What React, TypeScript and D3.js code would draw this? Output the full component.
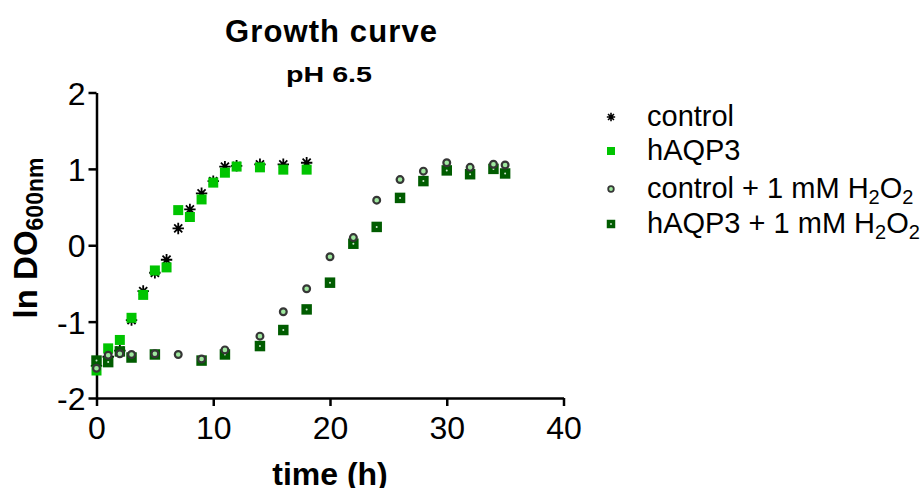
import React, { useRef, useEffect } from 'react'
import * as d3 from 'd3'

// time (h) and ln DO600 per series
const ctrlTime = [0, 1, 2, 3, 4, 5, 6, 7, 8, 9, 10, 11, 12, 14, 16, 18]
const ctrlVal = [-1.58, -1.46, -1.38, -0.98, -0.6, -0.36, -0.19, 0.22, 0.47, 0.68, 0.84, 1.03, 1.04, 1.06, 1.06, 1.08]

const aqpTime = [0, 1, 2, 3, 4, 5, 6, 7, 8, 9, 10, 11, 12, 14, 16, 18]
const aqpVal = [-1.64, -1.35, -1.24, -0.95, -0.65, -0.33, -0.29, 0.46, 0.37, 0.6, 0.82, 0.95, 1.03, 1.02, 0.99, 0.99]

const ctrlH2o2Time = [0, 1, 2, 3, 5, 7, 9, 11, 14, 16, 18, 20, 22, 24, 26, 28, 30, 32, 34, 35]
const ctrlH2o2Val = [-1.61, -1.44, -1.42, -1.43, -1.42, -1.43, -1.49, -1.37, -1.19, -0.87, -0.57, -0.15, 0.1, 0.59, 0.86, 0.97, 1.08, 1.02, 1.06, 1.05]

const aqpH2o2Time = [0, 1, 2, 3, 5, 9, 11, 14, 16, 18, 20, 22, 24, 26, 28, 30, 32, 34, 35]
const aqpH2o2Val = [-1.51, -1.53, -1.39, -1.47, -1.43, -1.51, -1.43, -1.32, -1.11, -0.84, -0.49, 0.02, 0.24, 0.62, 0.84, 0.98, 0.93, 1.0, 0.94]

const xTicks = [0, 10, 20, 30, 40]
const yTicks = [-2, -1, 0, 1, 2]

const LIGHT = '#00c400'
const DARK = '#005c00'
const FONT = 'Liberation Sans, Arial, sans-serif'

// 8-armed asterisk like Prism's
const star8 = {
  draw(ctx: any, size: number) {
    const r = Math.sqrt(size) / 2
    for (let i = 0; i < 4; i++) {
      const a = (i * Math.PI) / 4
      ctx.moveTo(-r * Math.cos(a), -r * Math.sin(a))
      ctx.lineTo(r * Math.cos(a), r * Math.sin(a))
    }
  }
}

export default function App() {
  const ref = useRef<SVGSVGElement>(null)

  useEffect(() => {
    const svg = d3.select(ref.current)
    svg.selectAll('*').remove()

    const x = d3.scaleLinear().domain([0, 40]).range([96.5, 563.5])
    const y = d3.scaleLinear().domain([-2, 2]).range([398, 92.5])

    // title
    svg.append('text').attr('x', 331).attr('y', 42).attr('text-anchor', 'middle')
      .attr('font-family', FONT).attr('font-weight', 'bold').attr('font-size', 31)
      .attr('textLength', 212).attr('lengthAdjust', 'spacing').text('Growth curve')
    svg.append('text').attr('x', 329).attr('y', 82).attr('text-anchor', 'middle')
      .attr('font-family', FONT).attr('font-weight', 'bold').attr('font-size', 22)
      .attr('textLength', 86).attr('lengthAdjust', 'spacingAndGlyphs').text('pH 6.5')

    // axes
    const fmt = (d: any) => String(d)
    const xAxis = svg.append('g').attr('transform', `translate(0,${y(-2)})`)
      .call(d3.axisBottom(x).tickValues(xTicks).tickFormat(fmt).tickSize(8).tickPadding(10).tickSizeOuter(0))
    const yAxis = svg.append('g').attr('transform', `translate(${x(0)},0)`)
      .call(d3.axisLeft(y).tickValues(yTicks).tickFormat(fmt).tickSize(8).tickPadding(3).tickSizeOuter(0))
    for (const g of [xAxis, yAxis]) {
      g.select('.domain').attr('stroke', '#000').attr('stroke-width', 2.5)
      g.selectAll('.tick line').attr('stroke', '#000').attr('stroke-width', 2.5)
      g.selectAll('.tick text').attr('font-family', FONT).attr('font-size', 32).attr('fill', '#000')
    }
    yAxis.selectAll('.tick text').attr('dy', '0.36em')
    xAxis.selectAll('.tick text').attr('dy', '0.72em')

    // axis titles
    svg.append('text').attr('x', 330).attr('y', 485).attr('text-anchor', 'middle')
      .attr('font-family', FONT).attr('font-weight', 'bold').attr('font-size', 32).text('time (h)')
    const yl = svg.append('text').attr('transform', 'translate(37,238) rotate(-90)')
      .attr('text-anchor', 'middle').attr('font-family', FONT).attr('font-weight', 'bold').attr('font-size', 33)
    yl.append('tspan').text('ln DO')
    yl.append('tspan').attr('font-size', 23).attr('dy', 6).text('600nm')

    const zip = (t: number[], v: number[]) => t.map((tt, i) => [tt, v[i]])
    const sym = (type: any, size: number) => d3.symbol().type(type).size(size)()

    // control (asterisk)
    svg.append('g').selectAll('path').data(zip(ctrlTime, ctrlVal)).join('path')
      .attr('transform', d => `translate(${x(d[0])},${y(d[1])})`)
      .attr('d', sym(star8, 130)).attr('stroke', '#000').attr('stroke-width', 1.8).attr('fill', 'none')

    // hAQP3
    svg.append('g').selectAll('path').data(zip(aqpTime, aqpVal)).join('path')
      .attr('transform', d => `translate(${x(d[0])},${y(d[1])})`)
      .attr('d', sym(d3.symbolSquare, 100)).attr('fill', LIGHT)

    // hAQP3 + H2O2
    const g4 = svg.append('g').selectAll('g').data(zip(aqpH2o2Time, aqpH2o2Val)).join('g')
      .attr('transform', d => `translate(${x(d[0])},${y(d[1])})`)
    g4.append('path').attr('d', sym(d3.symbolSquare, 110)).attr('fill', DARK)
    g4.append('circle').attr('r', 1).attr('fill', '#cfe8cf')

    // control + H2O2
    svg.append('g').selectAll('circle').data(zip(ctrlH2o2Time, ctrlH2o2Val)).join('circle')
      .attr('cx', d => x(d[0])).attr('cy', d => y(d[1])).attr('r', 3.4)
      .attr('fill', '#9ee89e').attr('stroke', '#363636').attr('stroke-width', 2.2)

    // legend
    const lx = 611, tx = 647
    const rows = [117, 151, 189, 224]
    const lg = svg.append('g')
    lg.append('path').attr('transform', `translate(${lx},${rows[0]})`).attr('d', sym(star8, 70))
      .attr('stroke', '#000').attr('stroke-width', 1.6).attr('fill', 'none')
    lg.append('path').attr('transform', `translate(${lx},${rows[1]})`).attr('d', sym(d3.symbolSquare, 64)).attr('fill', LIGHT)
    lg.append('circle').attr('cx', lx).attr('cy', rows[2]).attr('r', 2.8)
      .attr('fill', '#9ee89e').attr('stroke', '#363636').attr('stroke-width', 1.8)
    lg.append('path').attr('transform', `translate(${lx},${rows[3]})`).attr('d', sym(d3.symbolSquare, 72)).attr('fill', DARK)
    lg.append('circle').attr('cx', lx).attr('cy', rows[3]).attr('r', 0.9).attr('fill', '#cfe8cf')

    const label = (yy: number, main: string, h2o2: boolean) => {
      const t = lg.append('text').attr('x', tx).attr('y', yy + 9).attr('font-family', FONT).attr('font-size', 29)
      t.append('tspan').text(main)
      if (h2o2) {
        t.append('tspan').text(' + 1 mM H')
        t.append('tspan').attr('font-size', 20).attr('dy', 6).text('2')
        t.append('tspan').attr('dy', -6).text('O')
        t.append('tspan').attr('font-size', 20).attr('dy', 6).text('2')
      }
    }
    label(rows[0], 'control', false)
    label(rows[1], 'hAQP3', false)
    label(rows[2], 'control', true)
    label(rows[3], 'hAQP3', true)
  }, [])

  return <svg ref={ref} width={924} height={488} style={{ position: 'absolute', left: 0, top: 0, background: '#fff' }} />
}
